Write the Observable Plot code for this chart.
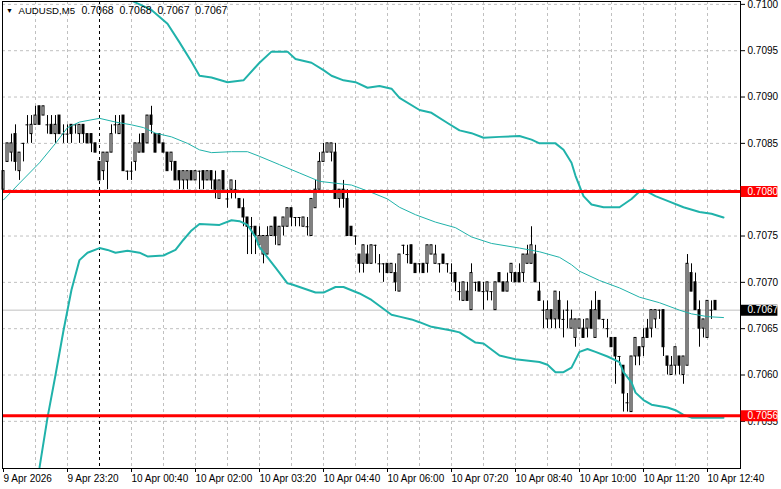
<!DOCTYPE html>
<html><head><meta charset="utf-8">
<script src="https://cdn.jsdelivr.net/npm/d3@7"></script>
<script src="https://cdn.jsdelivr.net/npm/@observablehq/plot@0.6"></script>
<style>
html,body{margin:0;padding:0;background:#fff;}
#chart{width:781px;height:489px;overflow:hidden;}
svg{display:block;}
[aria-label="x-axis tick label"]{text-anchor:start;}
</style></head><body><div id="chart"></div>
<script>
const symbol = "AUDUSD", timeframe = "M5";

const barOpen = [0.7080,0.7083,0.7084,0.7086,0.7082,0.7085,0.7087,0.7086,0.7087,0.7089,
0.7088,0.7087,0.7087,0.7086,0.7088,0.7086,0.7086,0.7087,0.7087,0.7086,
0.7087,0.7086,0.7086,0.7085,0.7083,0.7082,0.7083,0.7084,0.7087,0.7086,
0.7088,0.7082,0.7082,0.7083,0.7084,0.7086,0.7085,0.7088,0.7086,0.7086,
0.7085,0.7084,0.7083,0.7083,0.7082,0.7081,0.7081,0.7082,0.7081,0.7082,
0.7082,0.7081,0.7082,0.7081,0.7079,0.7082,0.7079,0.7080,0.7080,0.7079,
0.7078,0.7077,0.7076,0.7076,0.7074,0.7073,0.7073,0.7075,0.7077,0.7074,
0.7076,0.7076,0.7078,0.7077,0.7077,0.7076,0.7076,0.7075,0.7078,0.7080,
0.7083,0.7084,0.7084,0.7084,0.7079,0.7080,0.7079,0.7076,0.7075,0.7073,
0.7072,0.7073,0.7072,0.7074,0.7072,0.7072,0.7072,0.7071,0.7071,0.7069,
0.7074,0.7073,0.7074,0.7072,0.7072,0.7072,0.7072,0.7073,0.7072,0.7072,
0.7073,0.7072,0.7071,0.7071,0.7069,0.7068,0.7069,0.7067,0.7070,0.7070,
0.7069,0.7069,0.7069,0.7067,0.7071,0.7070,0.7069,0.7071,0.7071,0.7071,
0.7071,0.7072,0.7072,0.7073,0.7069,0.7067,0.7066,0.7067,0.7066,0.7068,
0.7066,0.7067,0.7065,0.7064,0.7065,0.7065,0.7065,0.7067,0.7064,0.7068,
0.7066,0.7065,0.7064,0.7064,0.7062,0.7061,0.7057,0.7056,0.7062,0.7063,
0.7063,0.7065,0.7065,0.7066,0.7067,0.7067,0.7062,0.7060,0.7061,0.7062,
0.7060,0.7061,0.7071,0.7070,0.7067,0.7065,0.7064,0.7067,0.7068];

const barHigh = [0.7082,0.7085,0.7086,0.7087,0.7084,0.7085,0.7088,0.7088,0.7089,0.7089,
0.7089,0.7088,0.7088,0.7088,0.7088,0.7087,0.7087,0.7087,0.7087,0.7087,
0.7087,0.7086,0.7086,0.7085,0.7083,0.7084,0.7084,0.7087,0.7088,0.7088,
0.7088,0.7082,0.7083,0.7085,0.7086,0.7086,0.7088,0.7089,0.7086,0.7086,
0.7085,0.7084,0.7084,0.7083,0.7082,0.7082,0.7082,0.7082,0.7082,0.7082,
0.7082,0.7082,0.7082,0.7082,0.7081,0.7082,0.7080,0.7081,0.7081,0.7079,
0.7079,0.7077,0.7077,0.7076,0.7076,0.7075,0.7076,0.7076,0.7077,0.7076,
0.7077,0.7078,0.7078,0.7077,0.7077,0.7077,0.7077,0.7079,0.7081,0.7084,
0.7085,0.7085,0.7085,0.7085,0.7080,0.7081,0.7080,0.7076,0.7075,0.7073,
0.7074,0.7074,0.7074,0.7074,0.7073,0.7072,0.7072,0.7072,0.7072,0.7073,
0.7074,0.7074,0.7074,0.7072,0.7072,0.7072,0.7074,0.7074,0.7074,0.7072,
0.7073,0.7072,0.7072,0.7071,0.7070,0.7070,0.7070,0.7072,0.7070,0.7070,
0.7070,0.7070,0.7069,0.7070,0.7071,0.7070,0.7071,0.7072,0.7071,0.7072,
0.7073,0.7074,0.7076,0.7074,0.7070,0.7068,0.7068,0.7067,0.7069,0.7069,
0.7067,0.7068,0.7067,0.7066,0.7066,0.7066,0.7066,0.7068,0.7069,0.7068,
0.7066,0.7066,0.7064,0.7064,0.7062,0.7061,0.7058,0.7062,0.7064,0.7063,
0.7065,0.7066,0.7067,0.7067,0.7067,0.7067,0.7062,0.7062,0.7063,0.7062,
0.7062,0.7073,0.7072,0.7071,0.7068,0.7066,0.7068,0.7068,0.7068];

const barLow = [0.7080,0.7083,0.7083,0.7082,0.7081,0.7083,0.7085,0.7085,0.7087,0.7087,
0.7088,0.7086,0.7086,0.7085,0.7086,0.7085,0.7085,0.7085,0.7086,0.7085,
0.7085,0.7085,0.7084,0.7084,0.7081,0.7081,0.7080,0.7084,0.7086,0.7086,
0.7082,0.7081,0.7081,0.7082,0.7084,0.7084,0.7085,0.7086,0.7084,0.7085,
0.7084,0.7082,0.7082,0.7081,0.7080,0.7080,0.7080,0.7081,0.7081,0.7080,
0.7080,0.7081,0.7080,0.7079,0.7079,0.7080,0.7078,0.7079,0.7079,0.7078,
0.7076,0.7073,0.7073,0.7073,0.7074,0.7072,0.7073,0.7075,0.7074,0.7074,
0.7075,0.7076,0.7076,0.7076,0.7076,0.7076,0.7075,0.7075,0.7078,0.7080,
0.7083,0.7084,0.7083,0.7079,0.7078,0.7078,0.7075,0.7075,0.7074,0.7071,
0.7071,0.7072,0.7072,0.7072,0.7071,0.7070,0.7071,0.7071,0.7069,0.7069,
0.7073,0.7072,0.7072,0.7071,0.7071,0.7071,0.7071,0.7073,0.7072,0.7071,
0.7072,0.7071,0.7070,0.7069,0.7068,0.7068,0.7068,0.7067,0.7069,0.7069,
0.7067,0.7068,0.7068,0.7067,0.7070,0.7069,0.7069,0.7070,0.7070,0.7070,
0.7070,0.7072,0.7072,0.7070,0.7068,0.7065,0.7065,0.7065,0.7065,0.7065,
0.7064,0.7065,0.7065,0.7063,0.7065,0.7064,0.7064,0.7065,0.7064,0.7066,
0.7065,0.7064,0.7063,0.7059,0.7061,0.7056,0.7056,0.7056,0.7061,0.7061,
0.7062,0.7064,0.7064,0.7065,0.7066,0.7062,0.7060,0.7060,0.7060,0.7060,
0.7059,0.7061,0.7069,0.7067,0.7063,0.7064,0.7064,0.7066,0.7067];

const barClose = [0.7082,0.7085,0.7085,0.7083,0.7084,0.7085,0.7087,0.7087,0.7088,0.7087,
0.7089,0.7087,0.7086,0.7087,0.7086,0.7086,0.7086,0.7086,0.7087,0.7087,
0.7086,0.7085,0.7085,0.7084,0.7081,0.7084,0.7084,0.7086,0.7087,0.7087,
0.7082,0.7082,0.7082,0.7085,0.7085,0.7084,0.7088,0.7087,0.7084,0.7085,
0.7084,0.7082,0.7084,0.7081,0.7081,0.7082,0.7082,0.7081,0.7082,0.7082,
0.7081,0.7082,0.7081,0.7080,0.7081,0.7080,0.7079,0.7081,0.7080,0.7078,
0.7077,0.7076,0.7076,0.7075,0.7075,0.7075,0.7075,0.7076,0.7075,0.7076,
0.7077,0.7078,0.7077,0.7077,0.7077,0.7077,0.7076,0.7079,0.7080,0.7083,
0.7084,0.7085,0.7085,0.7079,0.7080,0.7079,0.7075,0.7075,0.7075,0.7072,
0.7074,0.7072,0.7074,0.7074,0.7072,0.7072,0.7071,0.7072,0.7070,0.7073,
0.7074,0.7073,0.7072,0.7071,0.7072,0.7071,0.7074,0.7074,0.7073,0.7072,
0.7072,0.7072,0.7071,0.7070,0.7069,0.7070,0.7068,0.7071,0.7070,0.7069,
0.7069,0.7070,0.7069,0.7070,0.7070,0.7069,0.7070,0.7072,0.7070,0.7070,
0.7073,0.7073,0.7074,0.7070,0.7068,0.7067,0.7067,0.7066,0.7069,0.7066,
0.7066,0.7067,0.7066,0.7066,0.7066,0.7064,0.7066,0.7065,0.7067,0.7066,
0.7066,0.7065,0.7063,0.7062,0.7062,0.7058,0.7057,0.7062,0.7064,0.7062,
0.7064,0.7064,0.7067,0.7067,0.7067,0.7063,0.7061,0.7061,0.7063,0.7061,
0.7062,0.7072,0.7069,0.7067,0.7065,0.7066,0.7068,0.7067,0.7067];

// Bollinger-style bands (bar index, price)
const upperBars = [29,32,37,41,44,47,49,52,56,60,64,67,71,73,77,80,82,85,88,91,94,97,99,104,107,111,114,117,120,124,129,132,134,138,140,142,143,145,147,150,154,157,159,160,163,166,170,174,177,180];
const upperVals = [0.71016,0.71004,0.70994,0.70979,0.70959,0.70938,0.70923,0.70921,0.70916,0.70918,0.70937,0.70949,0.70949,0.70941,0.70937,0.70929,0.70923,0.70918,0.70916,0.70910,0.70912,0.70909,0.70899,0.70886,0.70883,0.70872,0.70864,0.70861,0.70856,0.70857,0.70858,0.70854,0.70850,0.70850,0.70843,0.70829,0.70815,0.70793,0.70784,0.70781,0.70781,0.70790,0.70798,0.70800,0.70793,0.70788,0.70781,0.70776,0.70774,0.70770];
const lowerBars = [8,9,11,13,15,17,19,21,24,26,28,31,34,36,40,43,45,47,49,54,57,59,61,63,64,68,71,72,78,80,83,85,89,92,97,99,102,104,107,112,114,118,120,124,128,134,136,138,140,142,144,146,148,151,154,155,157,158,160,162,166,168,170,172,176,180];
const lowerVals = [0.70481,0.70500,0.70554,0.70600,0.70648,0.70692,0.70724,0.70732,0.70737,0.70735,0.70732,0.70734,0.70732,0.70728,0.70729,0.70735,0.70746,0.70756,0.70763,0.70762,0.70767,0.70766,0.70762,0.70749,0.70738,0.70716,0.70699,0.70698,0.70689,0.70689,0.70695,0.70695,0.70688,0.70681,0.70665,0.70663,0.70660,0.70657,0.70652,0.70648,0.70646,0.70635,0.70634,0.70621,0.70617,0.70614,0.70611,0.70603,0.70603,0.70608,0.70625,0.70628,0.70625,0.70620,0.70614,0.70603,0.70592,0.70581,0.70573,0.70568,0.70565,0.70562,0.70557,0.70554,0.70554,0.70554];
const midBars = [0,4,9,13,16,19,24,28,32,35,38,42,46,49,52,57,61,64,69,74,79,83,87,92,96,99,103,108,113,117,122,129,134,139,142,144,149,154,159,164,169,172,176,180];
const midVals = [0.70789,0.70807,0.70829,0.70850,0.70867,0.70873,0.70877,0.70873,0.70870,0.70867,0.70861,0.70857,0.70850,0.70843,0.70840,0.70841,0.70841,0.70836,0.70827,0.70818,0.70809,0.70807,0.70805,0.70797,0.70790,0.70781,0.70773,0.70765,0.70759,0.70749,0.70742,0.70737,0.70733,0.70727,0.70719,0.70712,0.70702,0.70694,0.70684,0.70678,0.70670,0.70666,0.70663,0.70662];

const timeTickBars = [0,16,32,48,64,80,96,112,128,144,160,176];
const timeTickLabels = ["9 Apr 2026","9 Apr 23:20","10 Apr 00:40","10 Apr 02:00","10 Apr 03:20","10 Apr 04:40","10 Apr 06:00","10 Apr 07:20","10 Apr 08:40","10 Apr 10:00","10 Apr 11:20","10 Apr 12:40"];
const priceTicks = [0.7055,0.7060,0.7065,0.7070,0.7075,0.7080,0.7085,0.7090,0.7095,0.7100];
const levelPrices = [0.70798, 0.70556];
const separatorBar = 24; // 10 Apr 00:00

const bars = barOpen.map((o, i) => ({i, o, h: barHigh[i], l: barLow[i], c: barClose[i]}));
const toPts = (xs, ys) => xs.map((x, k) => ({x, y: ys[k]}));
const upper = toPts(upperBars, upperVals), lower = toPts(lowerBars, lowerVals), mid = toPts(midBars, midVals);
const last = bars[bars.length - 1];
const fmt = d3.format(".4f");
const gridBars = d3.range(8, 184, 8);
const teal = "#20b2aa";
const boxX1 = 184.4, boxX2 = 193.6;
// an axis label hidden under a level box is not printed
const hidden = p => levelPrices.some(l => Math.abs(l - p) < 0.00003);

const chart = Plot.plot({
  width: 781, height: 489,
  marginTop: 1, marginRight: 41, marginBottom: 21, marginLeft: 2,
  style: {fontFamily: "'Liberation Sans', Arial, sans-serif", fontSize: "10px", color: "black", background: "white", overflow: "visible"},
  x: {type: "linear", domain: [-0.25, 184.25]},
  y: {type: "linear", domain: [0.704991, 0.710031]},
  marks: [
    Plot.ruleY(priceTicks, {stroke: "#c0c0c0", strokeDasharray: "3,3"}),
    Plot.ruleX(gridBars, {stroke: "#c0c0c0", strokeDasharray: "3,3"}),
    Plot.ruleX([separatorBar], {stroke: "black", strokeDasharray: "3,3"}),
    Plot.ruleY([last.c], {stroke: "#c0c0c0"}),
    Plot.ruleX(bars, {x: "i", y1: "l", y2: "h", stroke: "black"}),
    Plot.rect(bars.filter(d => d.o !== d.c), {x1: d => d.i - 0.25, x2: d => d.i + 0.25, y1: "o", y2: "c",
      fill: d => d.c > d.o ? "white" : "black", stroke: "black"}),
    Plot.ruleY(bars.filter(d => d.o === d.c), {y: "c", x1: d => d.i - 0.375, x2: d => d.i + 0.375, stroke: "black"}),
    Plot.line(mid, {x: "x", y: "y", stroke: teal, strokeWidth: 1, clip: true}),
    Plot.line(upper, {x: "x", y: "y", stroke: teal, strokeWidth: 2, clip: true}),
    Plot.line(lower, {x: "x", y: "y", stroke: teal, strokeWidth: 2, clip: true}),
    Plot.ruleY(levelPrices, {stroke: "#ff0000", strokeWidth: 3}),
    Plot.frame({stroke: "black"}),
    Plot.axisY({anchor: "right", ticks: priceTicks, tickFormat: d => hidden(d) ? "" : fmt(d), tickSize: 4, tickPadding: 3, label: null}),
    Plot.axisX({anchor: "bottom", ticks: timeTickBars, tickFormat: d => timeTickLabels[timeTickBars.indexOf(d)], tickSize: 4, tickPadding: 2, textAnchor: "start", label: null}),
    Plot.ruleY(levelPrices, {y: d => d, x1: boxX1, x2: boxX2, stroke: "#ff0000", strokeWidth: 11}),
    Plot.text(levelPrices, {y: d => d, text: d => fmt(d), frameAnchor: "right", dx: 7, textAnchor: "start", fill: "white"}),
    Plot.ruleY([last.c], {y: d => d, x1: boxX1, x2: boxX2, stroke: "black", strokeWidth: 11}),
    Plot.text([last.c], {y: d => d, text: d => fmt(d), frameAnchor: "right", dx: 7, textAnchor: "start", fill: "white"}),
    Plot.text(["\u25BC"], {frameAnchor: "top-left", dx: 7, dy: 9.5, lineAnchor: "middle", textAnchor: "middle", fontSize: 7}),
    Plot.text([`${symbol},${timeframe}`], {frameAnchor: "top-left", dx: 16, dy: 9.3, lineAnchor: "middle", textAnchor: "start", fontSize: 9.6}),
    Plot.text([[last.o, last.h, last.l, last.c].map(fmt).join("\u00a0\u00a0")], {frameAnchor: "top-left", dx: 79, dy: 9.3, lineAnchor: "middle", textAnchor: "start", fontSize: 10.5})
  ]
});
document.getElementById("chart").append(chart);
</script></body></html>
